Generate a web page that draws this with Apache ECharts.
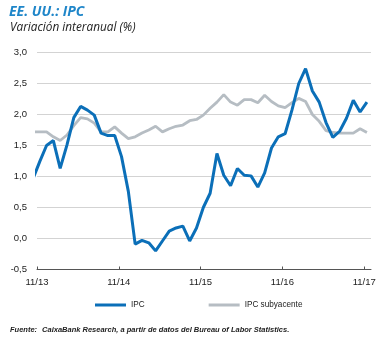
<!DOCTYPE html>
<html>
<head>
<meta charset="utf-8">
<script src="https://cdn.jsdelivr.net/npm/echarts@6/dist/echarts.min.js"></script>
<style>html,body{margin:0;padding:0;background:#fff}#c{width:391px;height:338px}</style>
</head>
<body>
<div id="c"></div>
<script>
// Months (first point Oct 2013 sits just left of the plot edge, as in the original)
const months = ['10/13','11/13','12/13','01/14','02/14','03/14','04/14','05/14','06/14','07/14','08/14','09/14','10/14','11/14','12/14',
  '01/15','02/15','03/15','04/15','05/15','06/15','07/15','08/15','09/15','10/15','11/15','12/15',
  '01/16','02/16','03/16','04/16','05/16','06/16','07/16','08/16','09/16','10/16','11/16','12/16',
  '01/17','02/17','03/17','04/17','05/17','06/17','07/17','08/17','09/17','10/17','11/17'];
const ipc = [0.96,1.24,1.50,1.58,1.13,1.51,1.95,2.13,2.07,1.99,1.70,1.66,1.66,1.32,0.76,
  -0.09,-0.03,-0.07,-0.20,-0.04,0.12,0.17,0.20,-0.04,0.17,0.50,0.73,
  1.37,1.02,0.85,1.13,1.02,1.01,0.83,1.06,1.46,1.64,1.69,2.07,
  2.50,2.74,2.38,2.20,1.87,1.63,1.73,1.94,2.23,2.04,2.20];
const ipcSub = [1.72,1.72,1.72,1.64,1.58,1.67,1.82,1.95,1.93,1.86,1.72,1.72,1.80,1.70,1.61,
  1.64,1.70,1.75,1.81,1.72,1.77,1.81,1.83,1.90,1.92,1.99,2.10,
  2.20,2.32,2.20,2.15,2.24,2.24,2.19,2.31,2.21,2.14,2.11,2.19,
  2.26,2.21,2.00,1.89,1.74,1.71,1.70,1.70,1.70,1.77,1.71];
const tickPos = [0.6, 12.6, 24.6, 36.6, 48.6];
const tickLabels = ['11/13','11/14','11/15','11/16','11/17'];
const seriesNames = ['IPC','IPC subyacente'];

const toXY = arr => arr.map((v, i) => [i, v]);
const xMin = 0.6, xMax = 49.6;
const lbl = {fontFamily:'Liberation Sans', fontSize:9.5, color:'#222'};

const chart = echarts.init(document.getElementById('c'), null, {renderer:'canvas'});
chart.setOption({
  animation: false,
  title: [
    {text:'EE. UU.: IPC', left:9, top:5, padding:0, textStyle:{fontFamily:'Open Sans', fontStyle:'italic', fontWeight:'bold', fontSize:14, color:'#1f86c9'}},
    {text:'Variación interanual (%)', left:10, top:22, padding:0, textStyle:{fontFamily:'Open Sans', fontStyle:'italic', fontWeight:'normal', fontSize:11.8, color:'#222'}},
    {text:'{b|Fuente:} {n|CaixaBank Research, a partir de datos del Bureau of Labor Statistics.}', left:10, top:321, padding:0,
     textStyle:{rich:{
       b:{fontFamily:'Liberation Sans', fontStyle:'italic', fontWeight:'bold', fontSize:7.5, color:'#222'},
       n:{fontFamily:'Liberation Sans', fontStyle:'italic', fontSize:7.5, color:'#222'}}}}
  ],
  legend: {
    data: seriesNames, left:95, top:301, padding:0, itemWidth:31, itemHeight:3, itemGap:64, icon:'rect',
    textStyle:{fontFamily:'Liberation Sans', fontSize:8.2, color:'#222'}
  },
  grid: {left:37, right:20, top:52.5, height:217, containLabel:false},
  xAxis: [
    {type:'value', min:xMin, max:xMax, axisLine:{show:false}, axisTick:{show:false}, splitLine:{show:false},
     axisLabel:Object.assign({customValues:tickPos, margin:8, formatter:v=>{const k=tickPos.findIndex(t=>Math.abs(t-v)<0.01);return k>=0?tickLabels[k]:'';}}, lbl)},
    {type:'value', min:xMin, max:xMax, position:'bottom',
     axisLine:{show:true, onZero:true, lineStyle:{color:'#555', width:1}},
     axisTick:{show:true, customValues:tickPos, inside:true, length:3, lineStyle:{color:'#555'}},
     axisLabel:{show:false}, splitLine:{show:false}}
  ],
  yAxis: {type:'value', min:-0.5, max:3, interval:0.5,
    axisLine:{show:false}, axisTick:{show:false},
    splitLine:{lineStyle:{color:'#d3d3d3', width:1}},
    axisLabel:Object.assign({margin:10, formatter:v=>v.toFixed(1).replace('.',',')}, lbl)},
  series: [
    {name:seriesNames[0], type:'line', xAxisIndex:0, data:toXY(ipc), showSymbol:false, symbol:'none', z:4,
     lineStyle:{color:'#0b6fb8', width:3}, itemStyle:{color:'#0b6fb8'}},
    {name:seriesNames[1], type:'line', xAxisIndex:0, data:toXY(ipcSub), showSymbol:false, symbol:'none', z:3,
     lineStyle:{color:'#b6bdc3', width:2.8}, itemStyle:{color:'#b6bdc3'}}
  ]
});
</script>
</body>
</html>
